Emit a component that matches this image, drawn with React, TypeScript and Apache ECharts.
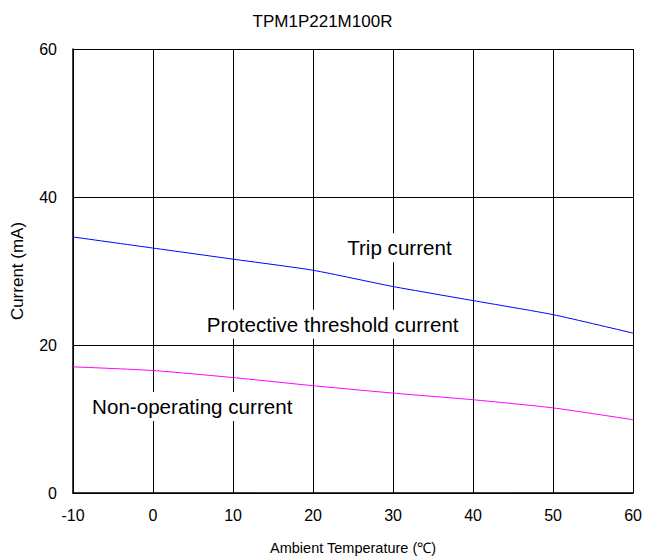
import React, { useEffect, useRef } from "react";
import * as echarts from "echarts";

const temps = [-10, 0, 10, 20, 30, 40, 50, 60];
const tripCurrent = [34.6, 33.1, 31.6, 30.1, 27.9, 26.0, 24.1, 21.6];
const nonOperating = [17.05, 16.55, 15.6, 14.5, 13.5, 12.6, 11.5, 9.9];
const labels = [
  { text: "Trip current", coord: [30.8, 33.15] },
  { text: "Protective threshold current", coord: [22.45, 22.8] },
  { text: "Non-operating current", coord: [4.9, 11.7] },
];

const FONT = "'Liberation Sans', Arial, sans-serif";

export default function App() {
  const ref = useRef<HTMLDivElement>(null);
  useEffect(() => {
    const chart = echarts.init(ref.current!, null, { renderer: "svg" });
    const lbl = (l: { text: string; coord: number[] }) => ({
      coord: l.coord,
      symbol: "rect",
      symbolSize: 0,
      label: {
        show: true,
        position: "inside",
        formatter: l.text,
        color: "#000",
        fontSize: 20.6,
        fontFamily: FONT,
        backgroundColor: "#fff",
        padding: [4, 2],
      },
    });
    chart.setOption({
      animation: false,
      title: {
        text: "TPM1P221M100R",
        left: "center",
        top: 8,
        textStyle: { fontSize: 17, fontWeight: "normal", color: "#000", fontFamily: FONT },
      },
      grid: { left: 73, right: 11, top: 49, bottom: 64 },
      xAxis: {
        type: "value",
        min: -10,
        max: 60,
        interval: 10,
        name: "Ambient Temperature (℃)",
        nameLocation: "middle",
        nameGap: 47,
        nameTextStyle: { fontSize: 14.5, color: "#000", fontFamily: FONT },
        axisLine: { onZero: false, lineStyle: { color: "#000", width: 1.5 } },
        axisTick: { show: false },
        axisLabel: { fontSize: 16, color: "#000", margin: 14, fontFamily: FONT },
        splitLine: { show: true, lineStyle: { color: "#000", width: 1 } },
      },
      yAxis: {
        type: "value",
        min: 0,
        max: 60,
        interval: 20,
        name: "Current (mA)",
        nameLocation: "middle",
        nameGap: 47,
        nameTextStyle: { fontSize: 17, color: "#000", fontFamily: FONT },
        axisLine: { show: true, onZero: false, lineStyle: { color: "#000", width: 1.5 } },
        axisTick: { show: false },
        axisLabel: { fontSize: 16, color: "#000", margin: 16, fontFamily: FONT },
        splitLine: { show: true, lineStyle: { color: "#000", width: 1 } },
      },
      series: [
        {
          type: "line",
          data: temps.map((t, i) => [t, tripCurrent[i]]),
          showSymbol: false,
          smooth: 0.2,
          lineStyle: { color: "#0000ff", width: 1 },
          z: 3,
          markPoint: { data: labels.map(lbl), z: 5 },
        },
        {
          type: "line",
          data: temps.map((t, i) => [t, nonOperating[i]]),
          showSymbol: false,
          smooth: 0.2,
          lineStyle: { color: "#ff00ff", width: 1 },
          z: 3,
        },
      ],
    });
    return () => chart.dispose();
  }, []);
  return (
    <div
      ref={ref}
      style={{ position: "fixed", left: 0, top: 0, width: 645, height: 560, background: "#fff" }}
    />
  );
}
